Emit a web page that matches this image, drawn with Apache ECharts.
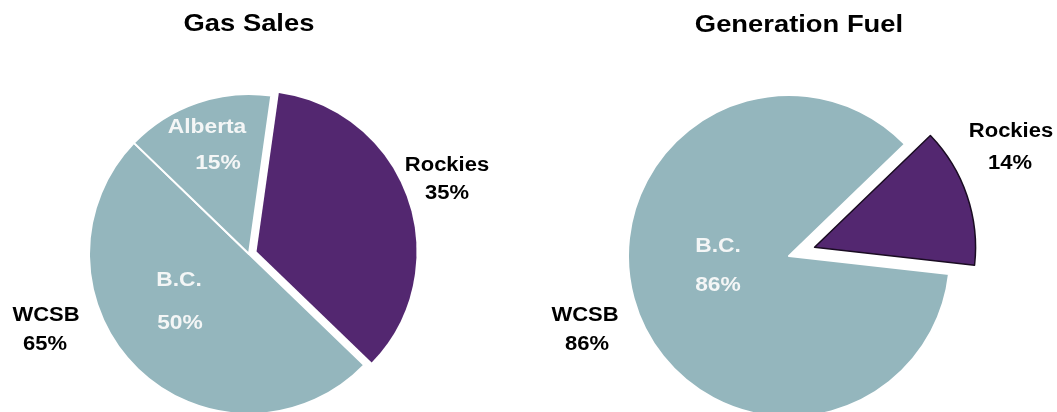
<!DOCTYPE html>
<html>
<head>
<meta charset="utf-8">
<script src="https://cdn.jsdelivr.net/npm/echarts@6/dist/echarts.min.js"></script>
<style>
  html, body { margin: 0; padding: 0; background: #fff; }
  #chart { width: 1057px; height: 412px; }
</style>
</head>
<body>
<div id="chart"></div>
<script>
// Chart titles
const chartTitles = ['Gas Sales', 'Generation Fuel'];

// Gas sales by supply region (%)
const gasNames = ['Rockies', 'B.C.', 'Alberta'];
const gasValues = [35, 50, 15];

// Generation fuel by supply region (%)
const fuelNames = ['Rockies', 'B.C.'];
const fuelValues = [14, 86];

// Basin grouping that covers the Canadian regions
const basinName = 'WCSB';

const TEAL = '#94b6bd';
const PURPLE = '#532770';

const FONT_FAMILY = '"Liberation Sans", Arial, Helvetica, sans-serif';

function pct(v) { return v + '%'; }
function basinShare(names, values) {
  return names.reduce((s, n, i) => (n === 'Rockies' ? s : s + values[i]), 0);
}

function textEl(str, x, y, size, color, stretch) {
  return {
    type: 'text',
    x: x, y: y,
    z: 100,
    scaleX: stretch || 1.1,
    silent: true,
    style: {
      text: str,
      font: 'bold ' + size + 'px ' + FONT_FAMILY,
      fill: color,
      align: 'center',
      verticalAlign: 'middle'
    }
  };
}

function pieData(names, values, withBorder) {
  return names.map((n, i) => {
    const isRockies = n === 'Rockies';
    return {
      name: n,
      value: values[i],
      selected: isRockies,
      itemStyle: isRockies
        ? { color: PURPLE, borderColor: withBorder ? '#1a0c22' : PURPLE, borderWidth: withBorder ? 1.5 : 0 }
        : { color: TEAL, borderColor: '#ffffff', borderWidth: 2 }
    };
  });
}

const gasIdx = n => gasNames.indexOf(n);
const fuelIdx = n => fuelNames.indexOf(n);

const chart = echarts.init(document.getElementById('chart'), null, { renderer: 'canvas' });

chart.setOption({
  backgroundColor: '#ffffff',
  animation: false,
  series: [
    {
      type: 'pie',
      z: 2,
      center: [249, 254],
      radius: [0, 160],
      startAngle: 82,
      clockwise: true,
      selectedMode: 'single',
      selectedOffset: 8,
      label: { show: false },
      labelLine: { show: false },
      emphasis: { disabled: true },
      data: pieData(gasNames, gasValues, false)
    },
    {
      type: 'pie',
      z: 2,
      center: [789, 256],
      radius: [0, 161],
      startAngle: 44,
      clockwise: true,
      selectedMode: 'single',
      selectedOffset: 27,
      label: { show: false },
      labelLine: { show: false },
      emphasis: { disabled: true },
      data: pieData(fuelNames, fuelValues, true)
    }
  ],
  graphic: {
    elements: [
      // titles
      textEl(chartTitles[0], 249, 24, 24, '#000', 1.14),
      textEl(chartTitles[1], 799, 25, 24, '#000', 1.14),

      // Gas Sales labels
      textEl(gasNames[gasIdx('Alberta')], 207, 127, 20, '#f4f6f6', 1.14),
      textEl(pct(gasValues[gasIdx('Alberta')]), 218, 163, 20, '#f4f6f6', 1.14),
      textEl(gasNames[gasIdx('B.C.')], 179, 280, 20, '#f4f6f6', 1.14),
      textEl(pct(gasValues[gasIdx('B.C.')]), 180, 323, 20, '#f4f6f6', 1.14),
      textEl(gasNames[gasIdx('Rockies')], 447, 165, 20, '#000'),
      textEl(pct(gasValues[gasIdx('Rockies')]), 447, 193, 20, '#000'),
      textEl(basinName, 46, 315, 20, '#000'),
      textEl(pct(basinShare(gasNames, gasValues)), 45, 344, 20, '#000'),

      // Generation Fuel labels
      textEl(fuelNames[fuelIdx('B.C.')], 718, 246, 20, '#f4f6f6', 1.14),
      textEl(pct(fuelValues[fuelIdx('B.C.')]), 718, 285, 20, '#f4f6f6', 1.14),
      textEl(fuelNames[fuelIdx('Rockies')], 1011, 131, 20, '#000'),
      textEl(pct(fuelValues[fuelIdx('Rockies')]), 1010, 163, 20, '#000'),
      textEl(basinName, 585, 315, 20, '#000'),
      textEl(pct(basinShare(fuelNames, fuelValues)), 587, 344, 20, '#000')
    ]
  }
});
</script>
</body>
</html>
